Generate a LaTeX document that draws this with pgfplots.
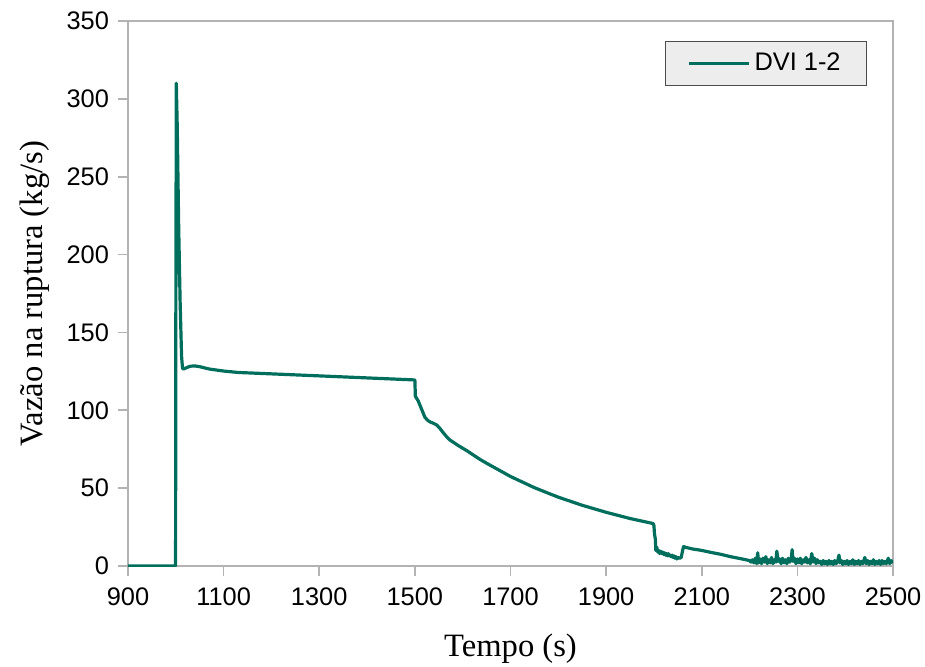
\documentclass[border=0pt]{standalone}
\usepackage{fontspec}
\setmainfont{Liberation Serif}
\newfontfamily\sansf{Liberation Sans}
\usepackage{pgfplots}
\pgfplotsset{compat=1.18}
\definecolor{teal1}{RGB}{0,110,92}
\definecolor{axgray}{RGB}{179,179,179}
\begin{document}
\begin{tikzpicture}
\begin{axis}[
  scale only axis, width=382.5pt, height=272.5pt,
  xmin=900, xmax=2500, ymin=0, ymax=350,
  xtick={900,1100,...,2500}, ytick={0,50,...,350},
  xtick pos=bottom, ytick pos=left,
  axis line style={axgray, line width=0.8pt},
  tick style={axgray, line width=0.8pt},
  tick align=outside, major tick length=5pt,
  /pgf/number format/assume math mode=true,
  /pgf/number format/1000 sep={},
  tick label style={font=\sansf\fontsize{12.7}{15}\selectfont, black},
  xticklabel style={yshift=-2.5pt},
  yticklabel style={xshift=-1pt},
  xlabel={Tempo (s)}, ylabel={Vazão na ruptura (kg/s)},
  label style={font=\fontsize{16.3}{19}\selectfont, inner sep=0pt},
  x label style={at={(axis description cs:0.5,-0.152)}, anchor=center},
  y label style={at={(axis description cs:-0.1216,0.5)}, anchor=center},
  legend style={at={(axis description cs:1,1)}, xshift=-13pt, yshift=-10pt, anchor=north east,
    draw=black!70, fill=black!7, inner xsep=11pt, inner ysep=3.8pt,
    font=\sansf\fontsize{12.7}{15}\selectfont, cells={anchor=west}},
  legend image code/.code={\draw[#1] (0pt,0pt) -- (30pt,0pt);},
]
\addplot[teal1, line width=1.6pt, line join=round] coordinates {
(900,0) (999.5,0) (1000,150) (1001,310) (1003,282) (1006,218) (1009,170) (1012,135) (1014,127) (1016,126.5) (1022,127.3) (1030,128.3) (1040,128.5) (1050,128) (1070,126.5) (1100,125.2) (1130,124.3) (1200,123.4) (1300,122.1) (1400,120.8) (1499,119.5)
(1500,119.5) (1501,109) (1503,108) (1507,106) (1511,103) (1515,100) (1521,95.5) (1527,93.5) (1532,92.5) (1540,91.5) (1546,90.5) (1552,88.5) (1557,86.5) (1565,83.5) (1573,81) (1590,77.5) (1609,74) (1636,68.5) (1650,66) (1700,57.5) (1750,50.3) (1800,44.2) (1850,39) (1900,34.5) (1950,30.5) (1998,27.3)
(2000,26) (2001,21) (2003,17) (2004,10) (2006,12) (2008,9) (2010,10) (2012,8) (2014,9.5) (2016,8) (2018,9) (2020,7.5) (2022,8.5) (2024,7) (2026,8) (2028,6.5) (2030,8) (2032,6.5) (2034,7) (2036,6) (2038,7) (2040,5.5) (2042,6.5) (2044,5) (2046,6) (2048,4.5) (2050,5.5) (2054,5) (2057,5.5) (2060,10) (2062,12.5) (2066,12) (2080,11) (2100,10) (2120,8.7) (2140,7.5) (2160,6) (2180,4.8) (2200,3.5)
(2203,2.5) (2206,4) (2209,2) (2212,5) (2215,1.5) (2217,8.5) (2219,2) (2222,4.5) (2225,1.5) (2228,5) (2231,2.5) (2234,6) (2237,1.5) (2240,4) (2243,2) (2246,5.5) (2249,1.5) (2252,4) (2255,2.5) (2257,9.5) (2260,3) (2263,4.5) (2266,1.5) (2269,5) (2272,2) (2275,4) (2278,1.5) (2281,5) (2284,2.5) (2287,4) (2289,10.5) (2291,3) (2294,5) (2297,1.5) (2300,4.5) (2303,2) (2306,5) (2309,1.5) (2312,4) (2315,2.5) (2318,5.5) (2321,2) (2324,4) (2327,1.5) (2330,8) (2333,2.5) (2336,5) (2339,1.5) (2342,4) (2345,2) (2348,3) (2351,1) (2354,3.5) (2357,1.5) (2360,3) (2363,1) (2366,3.5) (2369,1.5) (2372,3) (2375,1) (2378,3.5) (2381,1.5) (2384,3) (2387,7) (2389,2) (2392,3.5) (2395,1) (2398,3) (2401,1.5) (2404,3.5) (2407,1) (2410,3) (2413,1.5) (2416,4) (2419,1) (2422,3) (2425,1.5) (2428,3.5) (2431,1) (2434,3) (2437,1.5) (2441,5.5) (2444,1.5) (2447,3.5) (2450,1) (2453,3) (2456,1.5) (2459,4) (2462,1) (2465,3) (2468,1.5) (2471,3.5) (2474,1) (2477,3.5) (2480,1.5) (2483,3) (2486,1.5) (2490,5) (2493,1.5) (2496,3.5) (2500,2)
};
\addlegendentry{DVI 1-2}
\end{axis}
\pgfresetboundingbox
\path (-64pt,-50pt) rectangle (398.5pt,283pt);
\end{tikzpicture}
\end{document}
